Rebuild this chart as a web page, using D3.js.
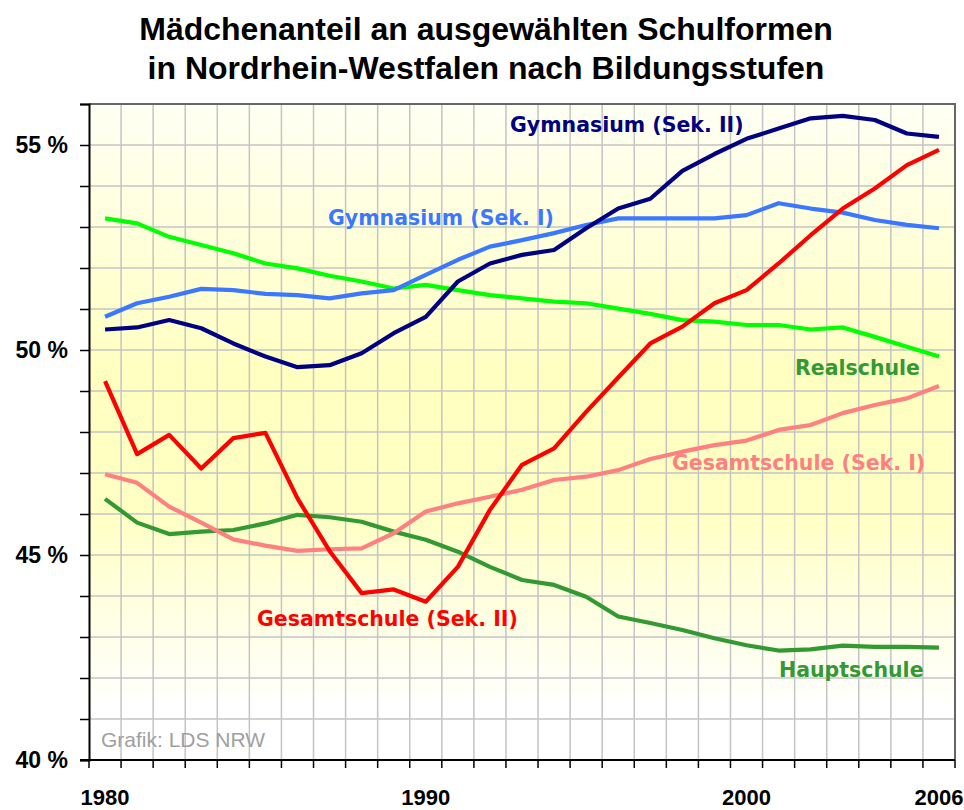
<!DOCTYPE html>
<html>
<head>
<meta charset="utf-8">
<script src="https://cdn.jsdelivr.net/npm/d3@7"></script>
<style>
  body { margin: 0; background: #fff; }
  svg { display: block; }
</style>
</head>
<body>
<div id="chart"></div>
<script>
// data (Mädchenanteil in %)
var years = d3.range(1980, 2007);
var gymSek2   = [50.50,50.55,50.73,50.53,50.16,49.84,49.58,49.63,49.92,50.41,50.81,51.67,52.11,52.32,52.44,52.97,53.45,53.69,54.37,54.78,55.15,55.40,55.65,55.71,55.61,55.28,55.20];
var gymSek1   = [50.81,51.14,51.30,51.49,51.46,51.37,51.34,51.26,51.38,51.46,51.83,52.20,52.52,52.68,52.85,53.05,53.21,53.21,53.21,53.21,53.29,53.58,53.45,53.35,53.17,53.05,52.97];
var realschule= [53.21,53.09,52.76,52.56,52.36,52.11,51.99,51.81,51.67,51.50,51.59,51.46,51.34,51.26,51.18,51.14,51.01,50.88,50.73,50.69,50.61,50.61,50.50,50.55,50.32,50.08,49.84];
var gesSek2   = [49.24,47.46,47.93,47.11,47.85,47.98,46.38,45.10,44.07,44.16,43.86,44.71,46.10,47.20,47.60,48.49,49.33,50.16,50.57,51.14,51.46,52.11,52.80,53.45,53.94,54.51,54.88];
var gesSek1   = [46.97,46.76,46.18,45.79,45.38,45.23,45.10,45.14,45.16,45.53,46.06,46.26,46.42,46.59,46.83,46.91,47.07,47.34,47.52,47.68,47.79,48.05,48.17,48.46,48.66,48.82,49.12];
var hauptschule=[46.37,45.79,45.51,45.57,45.61,45.77,45.98,45.92,45.81,45.57,45.37,45.08,44.71,44.39,44.27,43.98,43.50,43.34,43.17,42.97,42.80,42.67,42.70,42.79,42.76,42.76,42.74];
var yearLabels = [1980, 1990, 2000, 2006];
var seriesNames = ["Hauptschule", "Gesamtschule (Sek. I)", "Realschule", "Gymnasium (Sek. I)", "Gesamtschule (Sek. II)", "Gymnasium (Sek. II)"];

var width = 964, height = 810;
var m = {left: 89, right: 955, top: 104, bottom: 760};

var svg = d3.select("#chart").append("svg")
    .attr("width", width)
    .attr("height", height);

var x = d3.scaleLinear().domain([1979.5, 2006.5]).range([m.left, m.right]);
var y = d3.scaleLinear().domain([40, 56]).range([m.bottom, m.top]);

// background
var grad = svg.append("defs").append("linearGradient")
    .attr("id", "bg").attr("x1", 0).attr("y1", 0).attr("x2", 0).attr("y2", 1);
grad.append("stop").attr("offset", "0%").attr("stop-color", "#fffff4");
grad.append("stop").attr("offset", "42%").attr("stop-color", "#ffffc0");
grad.append("stop").attr("offset", "62%").attr("stop-color", "#ffffc4");
grad.append("stop").attr("offset", "92%").attr("stop-color", "#ffffff");

svg.append("rect")
    .attr("x", m.left).attr("y", m.top)
    .attr("width", m.right - m.left).attr("height", m.bottom - m.top)
    .attr("fill", "url(#bg)");

// grid
var grid = svg.append("g").attr("stroke", "#c4c4c4").attr("stroke-width", 1.5);
grid.selectAll(".v").data(years.slice(1)).enter().append("line")
    .attr("x1", function(d){ return x(d - 0.5); })
    .attr("x2", function(d){ return x(d - 0.5); })
    .attr("y1", m.top).attr("y2", m.bottom);
grid.selectAll(".h").data(d3.range(41, 56)).enter().append("line")
    .attr("y1", function(d){ return y(d); })
    .attr("y2", function(d){ return y(d); })
    .attr("x1", m.left).attr("x2", m.right);

// frame top/right
svg.append("path")
    .attr("d", "M" + m.left + "," + m.top + "H" + m.right + "V" + m.bottom)
    .attr("fill", "none").attr("stroke", "#666").attr("stroke-width", 2);

// "Grafik" note
svg.append("text")
    .attr("x", 101).attr("y", 747)
    .style("font-family", "'Liberation Sans', Arial, sans-serif")
    .style("font-size", "21px")
    .attr("fill", "#a0a0a0")
    .text("Grafik: LDS NRW");

// lines
var line = d3.line()
    .x(function(d, i){ return x(years[i]); })
    .y(function(d){ return y(d); });

var series = [
  {name: seriesNames[0], values: hauptschule, color: "#339933"},
  {name: seriesNames[1], values: gesSek1,     color: "#ff8080"},
  {name: seriesNames[2], values: realschule,  color: "#00ff00"},
  {name: seriesNames[3], values: gymSek1,     color: "#3c78ff"},
  {name: seriesNames[4], values: gesSek2,     color: "#ff0000"},
  {name: seriesNames[5], values: gymSek2,     color: "#000080"}
];

svg.append("g").selectAll("path").data(series).enter().append("path")
    .attr("d", function(d){ return line(d.values); })
    .attr("fill", "none")
    .attr("stroke", function(d){ return d.color; })
    .attr("stroke-width", 4.2)
    .attr("stroke-linejoin", "round");

// series labels
var labelPos = {
  "Gymnasium (Sek. II)":    {x: 510, y: 132, c: "#000080"},
  "Gymnasium (Sek. I)":     {x: 328, y: 225, c: "#3c78ff"},
  "Realschule":             {x: 795, y: 375, c: "#339933"},
  "Gesamtschule (Sek. I)":  {x: 672, y: 470, c: "#ff8080"},
  "Gesamtschule (Sek. II)": {x: 257, y: 626, c: "#ff0000"},
  "Hauptschule":            {x: 779, y: 677, c: "#339933"}
};
svg.append("g").selectAll("text").data(seriesNames).enter().append("text")
    .attr("x", function(d){ return labelPos[d].x; })
    .attr("y", function(d){ return labelPos[d].y; })
    .attr("fill", function(d){ return labelPos[d].c; })
    .style("font-family", "'DejaVu Sans', Verdana, sans-serif")
    .style("font-weight", "bold")
    .style("font-size", "20.5px")
    .text(function(d){ return d; });

// y axis
var yAxis = d3.axisLeft(y)
    .tickValues(d3.range(40, 57, 1))
    .tickSize(9)
    .tickPadding(12)
    .tickFormat(function(d){ return d % 5 === 0 && d < 56 ? d + " %" : ""; });
var gy = svg.append("g").attr("transform", "translate(" + m.left + ",0)").call(yAxis);
gy.select(".domain").attr("stroke", "#000").attr("stroke-width", 2);
gy.selectAll(".tick line").attr("stroke", "#000").attr("stroke-width", 1.5);
gy.selectAll(".tick text")
    .style("font-family", "'Liberation Sans', Arial, sans-serif")
    .style("font-weight", "bold")
    .style("font-size", "23px")
    .attr("fill", "#000");

// x axis: ticks at year boundaries, labels at year centres
var gx = svg.append("g");
gx.append("line")
    .attr("x1", m.left - 9).attr("x2", m.right)
    .attr("y1", m.bottom).attr("y2", m.bottom)
    .attr("stroke", "#000").attr("stroke-width", 2);
gx.selectAll(".tk").data(years.concat([2007])).enter().append("line")
    .attr("x1", function(d){ return x(d - 0.5); })
    .attr("x2", function(d){ return x(d - 0.5); })
    .attr("y1", m.bottom).attr("y2", m.bottom + 8)
    .attr("stroke", "#000").attr("stroke-width", 1.5);
gx.selectAll("text").data(yearLabels).enter().append("text")
    .attr("x", function(d){ return x(d); })
    .attr("y", 805)
    .attr("text-anchor", "middle")
    .style("font-family", "'Liberation Sans', Arial, sans-serif")
    .style("font-weight", "bold")
    .style("font-size", "22px")
    .text(function(d){ return d; });

// title
var title = svg.append("text")
    .attr("text-anchor", "middle")
    .style("font-family", "'Liberation Sans', Arial, sans-serif")
    .style("font-weight", "bold")
    .style("font-size", "32px");
title.append("tspan").attr("x", 486).attr("y", 40).text("Mädchenanteil an ausgewählten Schulformen");
title.append("tspan").attr("x", 486).attr("y", 79).text("in Nordrhein-Westfalen nach Bildungsstufen");
</script>
</body>
</html>
